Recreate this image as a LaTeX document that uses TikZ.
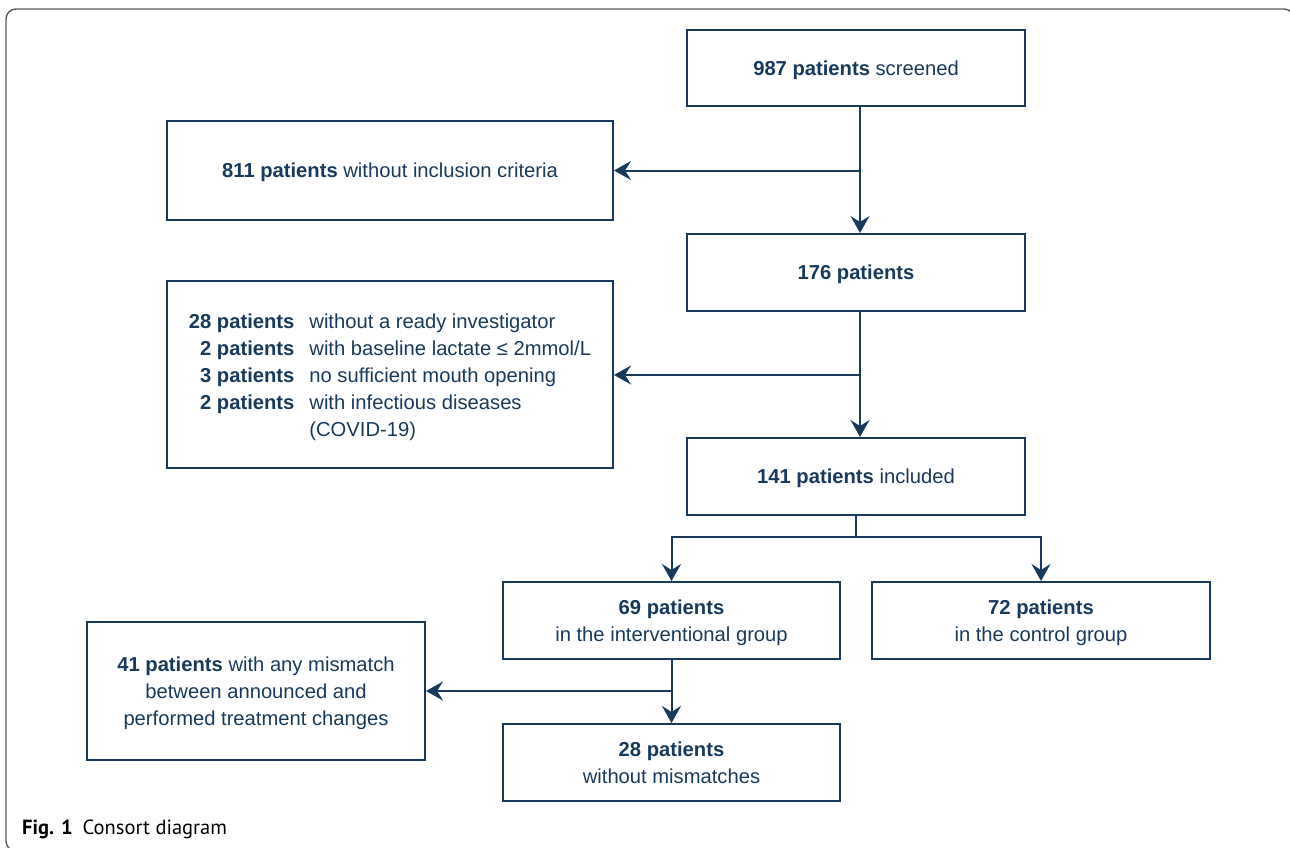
\documentclass[tikz,border=0pt]{standalone}
\usepackage{fontspec}
\setmainfont{Liberation Sans}
\newfontfamily\capfont{PT Sans}
\usetikzlibrary{arrows.meta,calc}
\definecolor{navy}{RGB}{23,58,92}
\definecolor{framegray}{RGB}{90,90,90}
\begin{document}
\begin{tikzpicture}[x=1pt,y=-1pt,
  boxbase/.style={draw=navy, line width=2pt, text=navy, inner sep=0pt, align=center,
    font=\fontsize{20.2}{27}\selectfont},
  box/.style={boxbase, text depth=0pt},
  conn/.style={draw=navy, line width=2pt, -{Stealth[length=17pt,width=19pt,inset=6pt]}},
  line/.style={draw=navy, line width=2pt}]
\useasboundingbox (0,0) rectangle (1290,848);
\begin{scope}
\clip (0,0) rectangle (1290,848);
\draw[framegray, line width=1.4pt, rounded corners=10pt] (6,9) rectangle (1294,851);
\end{scope}

\node[box, minimum width=338pt, minimum height=76pt] (screen) at (856,68) {\textbf{987 patients} screened};
\node[box, minimum width=446pt, minimum height=99pt] (noinc) at (390,170.5) {\textbf{811 patients} without inclusion criteria};
\node[box, minimum width=338pt, minimum height=77pt] (p176) at (856,272.5) {\textbf{176 patients}};
\node[boxbase, minimum width=446pt, minimum height=187pt, align=left] (excl) at (390,374.5) {%
  \begin{tabular}{@{}r@{\hspace{15pt}}l@{}}
  \rule{0pt}{25pt}\textbf{28 patients} & without a ready investigator\\
  \textbf{2 patients} & with baseline lactate ≤ 2mmol/L\\
  \textbf{3 patients} & no sufficient mouth opening\\
  \textbf{2 patients} & with infectious diseases\\
   & (COVID-19)
  \end{tabular}};
\node[box, minimum width=338pt, minimum height=77pt] (incl) at (856,476.5) {\textbf{141 patients} included};
\node[box, minimum width=337pt, minimum height=77pt] (interv) at (671.5,620.5) {\textbf{69 patients}\\in the interventional group};
\node[box, minimum width=338pt, minimum height=77pt] (ctrl) at (1041,620.5) {\textbf{72 patients}\\in the control group};
\node[box, minimum width=338pt, minimum height=138pt] (mism) at (256,691) {\textbf{41 patients} with any mismatch\\between announced and\\performed treatment changes};
\node[box, minimum width=337pt, minimum height=77pt] (nomism) at (671.5,762.5) {\textbf{28 patients}\\without mismatches};

% connectors
\coordinate (s1) at ($(screen.south)+(4,0)$);
\coordinate (t1) at ($(p176.north)+(4,0)$);
\coordinate (s2) at ($(p176.south)+(4,0)$);
\coordinate (t2) at ($(incl.north)+(4,0)$);
\draw[conn] (s1) -- (t1);
\draw[conn] (s1 |- noinc.east) -- (noinc.east);
\draw[conn] (s2) -- (t2);
\coordinate (j2) at (s2 |- 0,375);
\draw[conn] (j2) -- (excl.east |- j2);
\coordinate (j3) at (incl.south |- 0,537);
\draw[line] (incl.south) -- (j3);
\draw[conn] (j3) -| (interv.north);
\draw[conn] (j3) -| (ctrl.north);
\coordinate (j4) at (interv.south |- mism.east);
\draw[conn] (interv.south) -- (nomism.north);
\draw[conn] (j4) -- (mism.east);

\node[anchor=base west, inner sep=0pt, font=\capfont\fontsize{20.5}{22}\selectfont] (cap) at (22,834) {\textbf{Fig. 1}\hspace{10pt}Consort diagram};
\end{tikzpicture}
\end{document}
